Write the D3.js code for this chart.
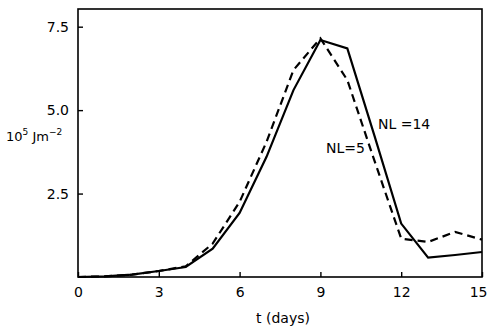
<!DOCTYPE html>
<html><head><meta charset="utf-8">
<script src="https://cdn.jsdelivr.net/npm/d3@7"></script>
<style>body{margin:0;background:#fff}svg{display:block}text{font-family:"DejaVu Sans",sans-serif;fill:#000}</style>
</head><body><svg id="c" width="488" height="327"></svg>
<script>
const days = [0,1,2,3,4,5,6,7,8,9,10,11,12,13,14,15];
const nl14 = [0,0.02,0.07,0.18,0.3,0.85,1.92,3.6,5.6,7.1,6.85,4.25,1.6,0.58,0.66,0.75];
const nl5  = [0,0.02,0.07,0.18,0.32,1.0,2.25,4.05,6.2,7.15,5.9,3.5,1.15,1.05,1.35,1.12];
const xTicks = [0,3,6,9,12,15];
const yTicks = [2.5,5.0,7.5];
const yTickLabels = ["2.5","5.0","7.5"];

const svg = d3.select("#c");
const x = d3.scaleLinear().domain([0,15]).range([78,482]);
const y = d3.scaleLinear().domain([0,8.03]).range([277,9]);

svg.append("rect").attr("x",78).attr("y",9).attr("width",404).attr("height",268)
  .attr("fill","none").attr("stroke","#000").attr("stroke-width",1.6);

const xa = svg.append("g").attr("transform","translate(0,277)")
  .call(d3.axisBottom(x).tickValues(xTicks).tickSize(-5).tickPadding(10).tickFormat(d3.format("d")));
xa.select(".domain").remove();
xa.selectAll("line").attr("stroke-width",1.4);
xa.selectAll("text").attr("font-size",14);
xa.selectAll(".tick").filter(d=>d===15).select("text").attr("text-anchor","end").attr("x",5);

const ya = svg.append("g").attr("transform","translate(78,0)")
  .call(d3.axisLeft(y).tickValues(yTicks).tickSize(-5).tickPadding(9).tickFormat((d,i)=>yTickLabels[i]));
ya.select(".domain").remove();
ya.selectAll("line").attr("stroke-width",1.4);
ya.selectAll("text").attr("font-size",14);

const line = d3.line().x((d,i)=>x(days[i])).y(d=>y(d));
svg.append("path").datum(nl14).attr("d",line).attr("fill","none")
  .attr("stroke","#000").attr("stroke-width",2.2).attr("stroke-linejoin","miter");
svg.append("path").datum(nl5).attr("d",line).attr("fill","none")
  .attr("stroke","#000").attr("stroke-width",2.2).attr("stroke-dasharray","8,5");

svg.append("text").attr("x",378).attr("y",129).attr("font-size",14).text("NL =14");
svg.append("text").attr("x",326).attr("y",153).attr("font-size",14).text("NL=5");

svg.append("text").attr("x",283).attr("y",323).attr("text-anchor","middle").attr("font-size",14).text("t (days)");

const yl = svg.append("text").attr("x",6).attr("y",141).attr("font-size",13);
yl.append("tspan").text("10");
yl.append("tspan").attr("dy",-6).attr("font-size",9).text("5");
yl.append("tspan").attr("dy",6).text(" Jm");
yl.append("tspan").attr("dy",-6).attr("font-size",9).text("−2");
</script></body></html>
